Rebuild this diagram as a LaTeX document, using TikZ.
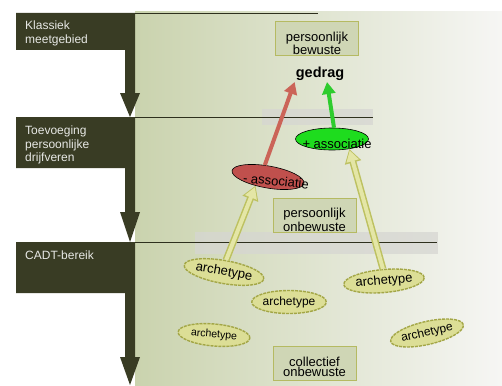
\documentclass[tikz,border=0pt]{standalone}
\usepackage{fontspec}
\setmainfont{Liberation Sans}
\usetikzlibrary{shapes.geometric,arrows.meta}

\definecolor{darkband}{HTML}{393C24}
\definecolor{panelgreen}{HTML}{CAD3AE}
\definecolor{panelwhite}{HTML}{F6F6F4}
\definecolor{boxline}{HTML}{B5BA62}
\definecolor{boxfill}{HTML}{CFD6B5}
\definecolor{archfill}{HTML}{DCDE96}
\definecolor{archline}{HTML}{A3A646}
\definecolor{arrowin}{HTML}{E4E6A6}
\definecolor{arrowout}{HTML}{BDC160}
\definecolor{assocred}{HTML}{C0504D}
\definecolor{assocgreen}{HTML}{1EDC1E}
\definecolor{redarrow}{HTML}{CB6458}
\definecolor{greenarrow}{HTML}{2ECC2E}
\definecolor{bandgray}{HTML}{D6D6D2}

\tikzset{
  bandlabel/.style={anchor=north west, inner sep=0pt, align=left, text=white!88!darkband,
    font=\fontsize{12}{13.5}\selectfont},
  levelbox/.style={draw=boxline, fill=boxfill, line width=0.8pt, minimum width=83pt, minimum height=34pt, inner sep=0pt},
  leveltext/.style={anchor=south, inner sep=0pt, align=center, font=\fontsize{13}{10.5}\selectfont},
  assoc/.style={ellipse, draw=black, line width=0.6pt, minimum width=73pt, minimum height=22pt, inner sep=0pt},
  assoctext/.style={font=\fontsize{13}{13}\selectfont, inner sep=0pt},
  archnode/.style={ellipse, draw=archline, dash pattern=on 3pt off 1pt, line width=1.4pt, fill=archfill, minimum width=74pt, minimum height=23pt,
    inner sep=0pt, font=\fontsize{13}{13}\selectfont},
  redline/.style={draw=redarrow, line width=4pt, -{Triangle[length=12pt,width=13pt]}},
  greenline/.style={draw=greenarrow, line width=4pt, -{Triangle[length=12pt,width=13pt]}},
  yellowouter/.style={draw=arrowout, line width=7pt, -{Triangle[length=14pt,width=16pt]}},
  yellowinner/.style={draw=arrowin, line width=4pt, shorten >=1.5pt, -{Triangle[length=11pt,width=12pt]}},
}

\begin{document}
\begin{tikzpicture}[x=1pt, y=-1pt]
        \useasboundingbox (0,0) rectangle (502,385);
        \fill[white] (0,0) rectangle (502,385);

        % panel and level bands
        \shade[left color=panelgreen, right color=panelwhite] (135,12) rectangle (502,385);
        \fill[bandgray, opacity=0.75] (262,109) rectangle (373,125);
        \fill[bandgray, opacity=0.75] (195,232) rectangle (438,254);
        \draw[darkband!80!black, line width=0.8pt] (134,13) -- (318,13);
        \draw[darkband!80!black, line width=0.8pt] (134,117) -- (373,117);
        \draw[darkband!80!black, line width=0.8pt] (134,242) -- (437,242);

        \foreach \top/\boxbot/\headtop/\tip in {13/50/93/117, 117/168/212/242, 242/293/357/385} {
          \fill[darkband] (16,\top) -- (135,\top) -- (135,\headtop) -- (140,\headtop) -- (130,\tip)
            -- (120,\headtop) -- (125,\headtop) -- (125,\boxbot) -- (16,\boxbot) -- cycle;
        }

        \node[bandlabel] (klassiek) at (25,21) {Klassiek\\meetgebied};
        \node[bandlabel] (toevoeging) at (25,126) {Toevoeging\\persoonlijke\\drijfveren};
        \node[bandlabel] (cadt) at (25,251) {CADT-bereik};

        % levels
        \node[levelbox] (bewust) at (317,38.5) {};
        \node[leveltext] (bewusttxt) at ([yshift=1pt]bewust.south) {persoonlijk\\bewuste};
        \node[levelbox] (onbewust) at (314.5,215) {};
        \node[leveltext] (onbewusttxt) at ([yshift=1pt]onbewust.south) {persoonlijk\\onbewuste};
        \node[levelbox] (collectief) at (314.5,363.5) {};
        \node[leveltext] (collectieftxt) at ([yshift=4pt]collectief.south) {collectief\\onbewuste};

        \node[font=\fontsize{14.5}{14.5}\selectfont\bfseries, inner sep=1pt] (gedrag) at (320,74) {gedrag};

        % associaties
        \node[assoc, fill=assocgreen, label={[assoctext, name=plustxt, xshift=5pt, yshift=-5pt]center:+ associatie}] (plus) at (332,139) {};
        \node[assoc, fill=assocred, rotate=-10, label={[assoctext, name=mintxt, xshift=8pt, yshift=-4pt, rotate=-6]center:- associatie}] (minus) at (268,177) {};

        % archetypes
        \node[archnode, rotate=-10] (arch1) at (224,272) {archetype};
        \node[archnode, font=\fontsize{12}{12}\selectfont] (arch2) at (289,302) {archetype};
        \node[archnode, rotate=-5, minimum width=72pt, minimum height=22pt, font=\fontsize{10.5}{10.5}\selectfont] (arch3) at (214,335) {archetype};
        \node[archnode, rotate=5] (arch4) at (384,281) {archetype};
        \node[archnode, rotate=13, font=\fontsize{12}{12}\selectfont] (arch5) at (427,333) {archetype};

        % connectors
        \draw[yellowouter] (arch1.north) -- (minus.-135);
        \draw[yellowinner] (arch1.north) -- (minus.-135);
        \draw[yellowouter] (arch4.north) -- (plus.-30);
        \draw[yellowinner] (arch4.north) -- (plus.-30);
        \draw[redline] (minus.115) -- (gedrag.south west);
        \draw[greenline] (plus.80) -- ([xshift=7pt]gedrag.south);

    \end{tikzpicture}
\end{document}
